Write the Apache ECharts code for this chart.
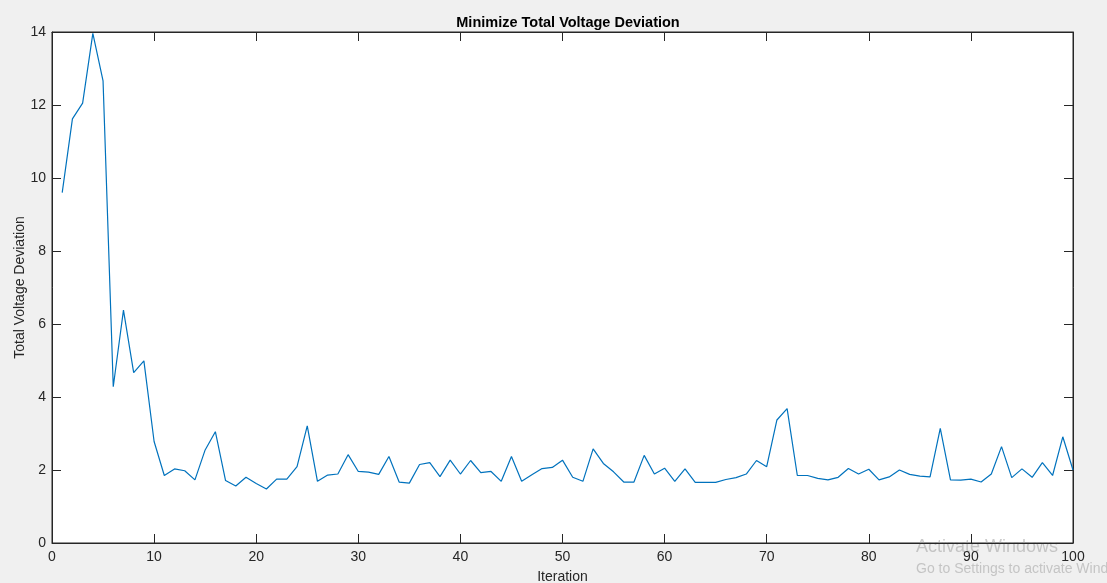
<!DOCTYPE html>
<html>
<head>
<meta charset="utf-8">
<script src="https://cdn.jsdelivr.net/npm/echarts@6/dist/echarts.min.js"></script>
<style>
  html, body { margin: 0; padding: 0; background: #f0f0f0; }
  #chart { width: 1107px; height: 583px; }
</style>
</head>
<body>
<div id="chart"></div>
<script>
// iteration numbers 1..100 and the deviation
const iterations = [
    1, 2, 3, 4, 5, 6, 7, 8, 9, 10,
    11, 12, 13, 14, 15, 16, 17, 18, 19, 20,
    21, 22, 23, 24, 25, 26, 27, 28, 29, 30,
    31, 32, 33, 34, 35, 36, 37, 38, 39, 40,
    41, 42, 43, 44, 45, 46, 47, 48, 49, 50,
    51, 52, 53, 54, 55, 56, 57, 58, 59, 60,
    61, 62, 63, 64, 65, 66, 67, 68, 69, 70,
    71, 72, 73, 74, 75, 76, 77, 78, 79, 80,
    81, 82, 83, 84, 85, 86, 87, 88, 89, 90,
    91, 92, 93, 94, 95, 96, 97, 98, 99, 100
]
const deviation = [
    9.60, 11.62, 12.05, 13.96, 12.66, 4.28, 6.38, 4.67, 4.99, 2.78,
    1.85, 2.03, 1.98, 1.73, 2.55, 3.05, 1.71, 1.56, 1.80, 1.63,
    1.48, 1.75, 1.75, 2.09, 3.21, 1.69, 1.86, 1.89, 2.42, 1.96,
    1.94, 1.88, 2.37, 1.67, 1.64, 2.15, 2.20, 1.82, 2.27, 1.89,
    2.26, 1.93, 1.96, 1.69, 2.37, 1.69, 1.87, 2.04, 2.07, 2.27,
    1.80, 1.69, 2.58, 2.18, 1.95, 1.67, 1.67, 2.40, 1.89, 2.05,
    1.69, 2.03, 1.66, 1.66, 1.66, 1.74, 1.79, 1.89, 2.26, 2.09,
    3.37, 3.68, 1.85, 1.85, 1.77, 1.73, 1.80, 2.04, 1.89, 2.02,
    1.73, 1.81, 2.00, 1.88, 1.83, 1.81, 3.14, 1.73, 1.72, 1.75,
    1.67, 1.89, 2.64, 1.79, 2.03, 1.80, 2.20, 1.85, 2.91, 2.00
]

const axisColor = '#262626'
const fontName = 'Liberation Sans'

const points = iterations.map((it, i) => [it, deviation[i]])

// MATLAB style: box round the plot, ticks pointing inwards on every side
function boxAxis(pos, min, max, interval, withLabels, margin) {
    return {
        type: 'value',
        position: pos,
        min: min,
        max: max,
        interval: interval,
        axisLine: { show: true, onZero: false, lineStyle: { color: axisColor, width: 1 } },
        axisTick: { show: true, inside: true, length: 9, lineStyle: { color: axisColor } },
        axisLabel: {
            show: withLabels,
            color: axisColor,
            fontFamily: fontName,
            fontSize: 14,
            margin: margin
        },
        splitLine: { show: false }
    }
}

const xMain = boxAxis('bottom', 0, 100, 10, true, 7)
xMain.name = 'Iteration'
xMain.nameLocation = 'middle'
xMain.nameGap = 27
xMain.nameTextStyle = { color: axisColor, fontFamily: fontName, fontSize: 14 }

const yMain = boxAxis('left', 0, 14, 2, true, 6)
yMain.name = 'Total Voltage Deviation'
yMain.nameLocation = 'middle'
yMain.nameGap = 25
yMain.nameMoveOverlap = false
yMain.nameTextStyle = { color: axisColor, fontFamily: fontName, fontSize: 14 }

const chart = echarts.init(document.getElementById('chart'))
chart.setOption({
    backgroundColor: '#f0f0f0',
    animation: false,
    title: {
        text: 'Minimize Total Voltage Deviation',
        left: 563,
        textAlign: 'center',
        top: 10,
        textStyle: { color: '#000', fontFamily: fontName, fontSize: 14.5, fontWeight: 'bold' }
    },
    grid: {
        left: 52,
        right: 34,
        top: 32,
        bottom: 40,
        outerBoundsMode: 'none',
        containLabel: false,
        show: true,
        backgroundColor: '#ffffff',
        borderColor: axisColor,
        borderWidth: 1
    },
    xAxis: [xMain, boxAxis('top', 0, 100, 10, false, 8)],
    yAxis: [yMain, boxAxis('right', 0, 14, 2, false, 8)],
    series: [{
        type: 'line',
        data: points,
        showSymbol: false,
        lineStyle: { color: '#0072BD', width: 1.2 },
        itemStyle: { color: '#0072BD' }
    }],
    graphic: [
        {
            type: 'text', left: 916, top: 538,
            style: { text: 'Activate Windows', fill: 'rgba(160,160,160,0.55)', font: '18px "Liberation Sans"' }
        },
        {
            type: 'text', left: 916, top: 562,
            style: { text: 'Go to Settings to activate Windows.', fill: 'rgba(160,160,160,0.55)', font: '14px "Liberation Sans"' }
        }
    ]
})
</script>
</body>
</html>
